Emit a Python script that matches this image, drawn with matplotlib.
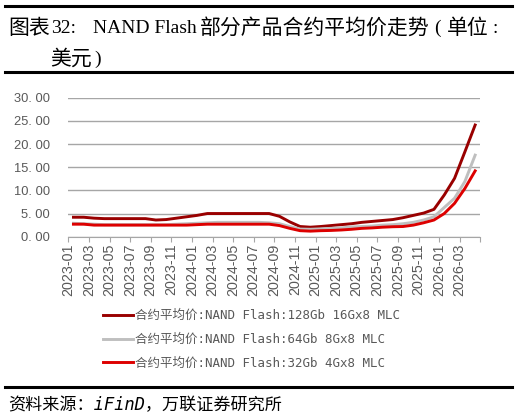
import matplotlib
matplotlib.use("Agg")
import matplotlib.pyplot as plt
from matplotlib.lines import Line2D
import numpy as np

# monthly categories 2023-01 .. 2026-04
months = [f"{y}-{m:02d}" for y in (2023, 2024, 2025, 2026) for m in range(1, 13)][:40]

p128 = [4.2, 4.2, 4.0, 3.9, 3.9, 3.9, 3.9, 3.9, 3.6, 3.7,
        4.0, 4.3, 4.6, 5.0, 5.0, 5.0, 5.0, 5.0, 5.0, 5.0,
        4.4, 3.2, 2.2, 2.05, 2.2, 2.4, 2.6, 2.8, 3.1, 3.3,
        3.5, 3.7, 4.1, 4.6, 5.1, 5.9, 9.0, 12.6, 18.3, 24.1]
p64 = [2.9, 2.8, 2.7, 2.6, 2.6, 2.6, 2.6, 2.6, 2.6, 2.6,
       2.7, 2.8, 2.9, 3.0, 3.1, 3.1, 3.1, 3.1, 3.1, 3.0,
       2.8, 2.2, 1.65, 1.6, 1.7, 1.8, 1.9, 2.1, 2.2, 2.3,
       2.5, 2.6, 2.8, 3.1, 3.6, 4.3, 6.3, 8.3, 11.9, 17.6]
p32 = [2.7, 2.7, 2.5, 2.5, 2.5, 2.5, 2.5, 2.5, 2.5, 2.5,
       2.5, 2.5, 2.6, 2.7, 2.7, 2.7, 2.7, 2.7, 2.7, 2.7,
       2.4, 1.8, 1.3, 1.2, 1.3, 1.35, 1.45, 1.6, 1.8, 1.9,
       2.05, 2.15, 2.2, 2.5, 3.0, 3.6, 5.0, 7.2, 10.4, 14.2]

labels = ["合约平均价:NAND Flash:128Gb 16Gx8 MLC",
          "合约平均价:NAND Flash:64Gb 8Gx8 MLC",
          "合约平均价:NAND Flash:32Gb 4Gx8 MLC"]
colors = ["#990000", "#BFBFBF", "#DD0000"]
yticks = [0, 5, 10, 15, 20, 25, 30]

W, H = 516, 419
fig = plt.figure(figsize=(W / 100, H / 100), dpi=100)
ax = fig.add_axes([68.3 / W, 1 - 236.7 / H, 412 / W, 139 / H])

x = np.arange(len(months)) + 0.5
for vals, c, lab in zip([p128, p64, p32], colors, labels):
    ax.plot(x, vals, color=c, lw=2.1, label=lab, solid_joinstyle="round")

ax.set_xlim(0, 40)
ax.set_ylim(0, 30)
ax.set_yticks(yticks)
ax.set_yticklabels([f"{v}. 00" for v in yticks], family="Liberation Sans",
                   fontsize=9.3, color="#595959")
ax.tick_params(axis="y", length=0, pad=13)
xt = list(range(0, 41, 2))
ax.set_xticks(xt)
ax.set_xticklabels([months[i] if i < 40 else "" for i in xt], rotation=90,
                   family="Liberation Sans", fontsize=10.3, color="#595959")
ax.tick_params(axis="x", length=3.5, color="#A6A6A6", pad=1.5)
ax.grid(axis="y", color="#A6A6A6", lw=1.0)
ax.set_axisbelow(True)
for s in ["left", "right", "top"]:
    ax.spines[s].set_visible(False)
ax.spines["bottom"].set_color("#A6A6A6")

fig.legend(loc="upper center", bbox_to_anchor=(251.5 / W, 1 - 298 / H),
           frameon=False, handlelength=2.4, handletextpad=0.1, labelspacing=0.85,
           prop={"family": ["DejaVu Sans Mono", "Noto Sans CJK SC"], "size": 9},
           labelcolor="#595959")

# title block
for yy in (6, 71.5, 386.5):
    fig.add_artist(Line2D([5 / W, 512 / W], [1 - yy / H, 1 - yy / H],
                          transform=fig.transFigure, color="black", lw=2.2))
cjk = "Noto Sans CJK SC"
serif = "Liberation Serif"
pieces = [  # (text, x px, baseline y px, family, size)
    ("图表", 8, 34, cjk, 15),
    ("32:", 51, 33, serif, 14),
    ("NAND Flash", 93, 33, serif, 14),
    ("部分产品合约平均价走势", 200, 34, cjk, 15),
    ("(", 434, 33, serif, 14),
    ("单位", 447, 34, cjk, 15),
    (":", 492, 33, serif, 14),
    ("美元", 50, 65, cjk, 15),
    (")", 94, 64, serif, 14),
]
for t, px, py, fam, sz in pieces:
    fig.text(px / W, 1 - py / H, t, family=fam, fontsize=sz, va="baseline",
             ha="left", fontweight="light")
fig.text(8 / W, 1 - 405 / H, "资料来源：iFinD，万联证券研究所",
         family=["DejaVu Sans Mono", cjk], style="italic",
         fontsize=12.3, va="center", ha="left")

fig.savefig("out.png", dpi=100)
